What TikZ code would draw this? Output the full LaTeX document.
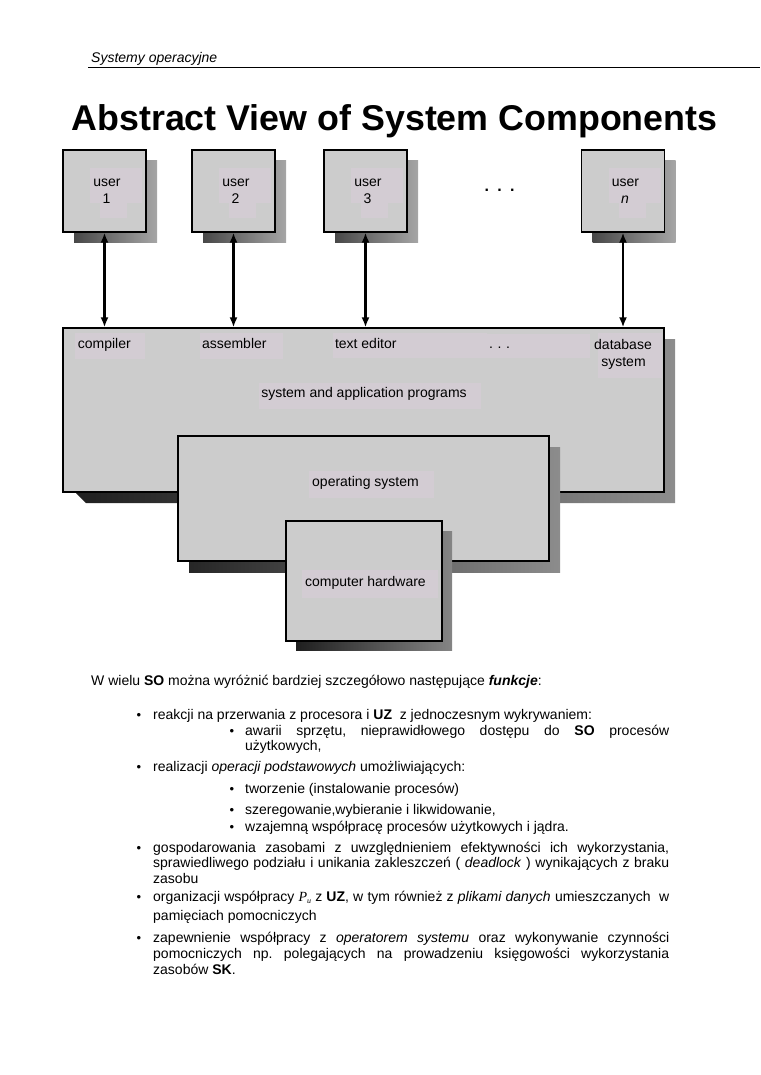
\documentclass[tikz,border=0pt]{standalone}
\usepackage{fontspec}
\setmainfont{Liberation Sans}
\newfontfamily\tnr{Liberation Serif}
\usetikzlibrary{arrows.meta}
\definecolor{boxfill}{RGB}{204,204,204}
\definecolor{patch}{RGB}{211,204,211}
\frenchspacing
\begin{document}
\begin{tikzpicture}[x=1pt,y=-1pt,
  box/.style={draw=black, line width=1.3pt, fill=boxfill, inner sep=0pt},
  lbl/.style={font=\fontsize{14}{16}\selectfont, inner sep=0pt, anchor=base},
  body/.style={font=\fontsize{14}{16}\selectfont, inner sep=0pt, anchor=base west},
  bul/.style={font=\fontsize{13}{16}\selectfont, inner sep=0pt, anchor=base},
  arr/.style={{Latex[length=10pt,width=8pt]}-{Latex[length=10pt,width=8pt]}, line width=2.2pt},
]
\useasboundingbox (0,0) rectangle (760,1075);

% header
\node[font=\fontsize{14}{16}\selectfont\itshape, inner sep=0pt, anchor=base west] (hdr) at (91,63) {Systemy operacyjne};
\coordinate (hl) at (88,67.5);
\coordinate (hr) at (760,67.5);
\draw[line width=1.3pt] (hl) -- (hr);

% title
\node[font=\fontsize{35.8}{40}\selectfont\bfseries, inner sep=0pt, anchor=base] (title) at (394.5,131) {Abstract View of System Components};

% users
\foreach \cx/\n/\lab in {104.5/1/1, 233.5/2/2, 365.5/3/3, 623/n/\textit{n}}{
  \shade[left color=black!72, right color=black!35] (\cx-30.5,161) rectangle (\cx+52.5,243);
  \node[box, minimum width=83pt, minimum height=82pt] (u\n) at (\cx,191) {};
  \fill[patch] (\cx-14.5,168) rectangle (\cx+37.5,203);
  \fill[patch] (\cx-4.5,203) rectangle (\cx+22.5,218);
  \node[lbl] (ut\n) at (\cx+2.5,186.5) {user};
  \node[lbl] (un\n) at (\cx+2,203.5) {\lab};
}
\node[font=\fontsize{16}{18}\selectfont\bfseries, inner sep=0pt, anchor=base] (udots) at (499.5,192) {.\hspace{8.3pt}.\hspace{8.3pt}.};

% system and application programs
\shade[left color=black!88, right color=black!45] (74,339) -- (675,339) -- (675,503) -- (86,503) -- (76,493) -- cycle;
\node[box, minimum width=601pt, minimum height=164pt] (prog) at (363.5,410) {};
\fill[patch] (74.5,333) rectangle (145,359);
\fill[patch] (199.5,333) rectangle (283,359);
\fill[patch] (333,333) rectangle (487,358);
\fill[patch] (487,334) rectangle (590,358);
\fill[patch] (598,333) rectangle (662,378);
\fill[patch] (259,383) rectangle (481,409);
\node[lbl, anchor=base west] (comp) at (77.7,348.7) {compiler};
\node[lbl, anchor=base west] (asm) at (201.8,348.7) {assembler};
\node[lbl, anchor=base west] (ted) at (334.8,348.7) {text editor};
\node[lbl] (pdots) at (499.5,348.7) {.\hspace{4.6pt}.\hspace{4.6pt}.};
\node[lbl] (db1) at (623,349.3) {database};
\node[lbl] (db2) at (623.5,366.7) {system};
\node[lbl] (sap) at (364,397.7) {system and application programs};

% operating system
\shade[left color=black!85, right color=black!45] (189,447) rectangle (560,572);
\node[box, minimum width=371pt, minimum height=125pt] (os) at (363.5,498.5) {};
\fill[patch] (309,471) rectangle (434,498);
\node[lbl] (osl) at (365.5,486.7) {operating system};

% computer hardware
\shade[left color=black!88, right color=black!48] (296,531) rectangle (452,650);
\node[box, minimum width=156pt, minimum height=120pt] (hw) at (364,581) {};
\fill[patch] (302,570) rectangle (438,598);
\node[lbl] (hwl) at (365.5,586.7) {computer hardware};

% connectors
\foreach \n in {1,2,3,n}{
  \draw[arr] (u\n.south) -- (u\n.south |- prog.north);
}

% body text
\node[body] (t0) at (91,685) {W wielu \textbf{SO} można wyróżnić bardziej szczegółowo następujące \textbf{\textit{funkcje}}:};

\node[bul] (b1) at (139,719) {•};
\node[body] (t1) at (153,719) {reakcji na przerwania z procesora i \textbf{UZ}\ \ z jednoczesnym wykrywaniem:};
\node[bul] (b2) at (232,735) {•};
\node[body] (t2) at (245,735) {\makebox[424pt][s]{awarii sprzętu, nieprawidłowego dostępu do \textbf{SO} procesów}};
\node[body] (t3) at (245,750) {użytkowych,};

\node[bul] (b4) at (139,771) {•};
\node[body] (t4) at (153,771) {realizacji \textit{operacji podstawowych} umożliwiających:};
\node[bul] (b5) at (232,793) {•};
\node[body] (t5) at (245,793) {tworzenie (instalowanie procesów)};
\node[bul] (b6) at (232,814) {•};
\node[body] (t6) at (245,814) {szeregowanie,wybieranie i likwidowanie,};
\node[bul] (b7) at (232,831) {•};
\node[body] (t7) at (245,831) {wzajemną współpracę procesów użytkowych i jądra.};

\node[bul] (b8) at (139,852) {•};
\node[body] (t8) at (153,852) {\makebox[516pt][s]{gospodarowania zasobami z uwzględnieniem efektywności ich wykorzystania,}};
\node[body] (t9) at (153,867) {\makebox[516pt][s]{sprawiedliwego podziału i unikania zakleszczeń ( \textit{deadlock} ) wynikających z braku}};
\node[body] (t10) at (153,883) {zasobu};

\node[bul] (b11) at (139,901) {•};
\node[body] (t11) at (153,901) {\makebox[516pt][s]{organizacji współpracy {\tnr\itshape P\raisebox{-2.5pt}{\fontsize{8}{9}\selectfont u}} z \textbf{UZ}, w tym również z \textit{plikami danych} umieszczanych\ \ w}};
\node[body] (t12) at (153,920) {pamięciach pomocniczych};

\node[bul] (b13) at (139,942) {•};
\node[body] (t13) at (153,942) {\makebox[516pt][s]{zapewnienie współpracy z \textit{operatorem systemu} oraz wykonywanie czynności}};
\node[body] (t14) at (153,958) {\makebox[516pt][s]{pomocniczych np. polegających na prowadzeniu księgowości wykorzystania}};
\node[body] (t15) at (153,974) {zasobów \textbf{SK}.};
\end{tikzpicture}
\end{document}
